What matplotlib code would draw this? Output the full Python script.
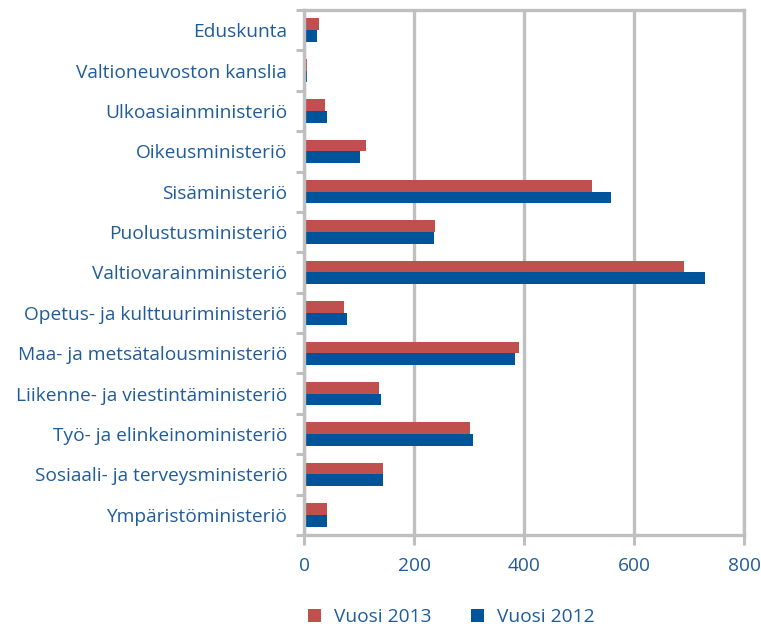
import matplotlib.pyplot as plt
import numpy as np

plt.rcParams['font.family'] = ['Open Sans', 'DejaVu Sans']

ministries = [
    'Eduskunta',
    'Valtioneuvoston kanslia',
    'Ulkoasiainministeriö',
    'Oikeusministeriö',
    'Sisäministeriö',
    'Puolustusministeriö',
    'Valtiovarainministeriö',
    'Opetus- ja kulttuuriministeriö',
    'Maa- ja metsätalousministeriö',
    'Liikenne- ja viestintäministeriö',
    'Työ- ja elinkeinoministeriö',
    'Sosiaali- ja terveysministeriö',
    'Ympäristöministeriö',
]
vuosi_2013 = [27, 5, 38, 112, 524, 239, 691, 73, 390, 136, 301, 144, 41]
vuosi_2012 = [24, 5, 42, 102, 558, 236, 729, 79, 383, 140, 307, 144, 41]
x_ticks = [0, 200, 400, 600, 800]

RED = '#C0504D'
BLUE = '#00559A'
TEXT = '#1F5C99'
GRID = '#BFBFBF'
FS = 13.8

fig = plt.figure(figsize=(7.61, 6.31), dpi=100)
ax = fig.add_axes([0.3995, 0.1521, 0.9777 - 0.3995, 0.9842 - 0.1521])

y = np.arange(len(ministries))
h = 0.29
ax.barh(y - h / 2, vuosi_2013, height=h, color=RED, label='Vuosi 2013', zorder=3)
ax.barh(y + h / 2, vuosi_2012, height=h, color=BLUE, label='Vuosi 2012', zorder=3)

ax.set_xlim(0, 800)
ax.set_ylim(len(ministries) - 0.5, -0.5)
ax.set_xticks(x_ticks)
ax.set_xticklabels([str(v) for v in x_ticks])

# category labels in the middle, ticks on the band edges
ax.set_yticks(y)
ax.set_yticklabels(ministries)
ax.set_yticks(np.arange(len(ministries) + 1) - 0.5, minor=True)
ax.tick_params(axis='y', which='major', length=0, pad=12, labelsize=FS, labelcolor=TEXT)
ax.tick_params(axis='y', which='minor', length=6, width=2.2, color=GRID)
ax.tick_params(axis='x', which='major', length=7, width=2.2, color=GRID, pad=9,
               labelsize=FS, labelcolor=TEXT)

ax.grid(axis='x', color=GRID, linewidth=2.4, zorder=0)
for side in ['top', 'bottom', 'left', 'right']:
    ax.spines[side].set_color(GRID)
    ax.spines[side].set_linewidth(2.4)
ax.spines['left'].set_zorder(4)

fig.legend(loc='center', bbox_to_anchor=(0.593, 0.022), ncol=2, frameon=False,
           fontsize=FS, labelcolor=TEXT, handlelength=0.68, handleheight=0.68,
           columnspacing=2.1, handletextpad=0.68)

plt.savefig('out.png', dpi=100)
